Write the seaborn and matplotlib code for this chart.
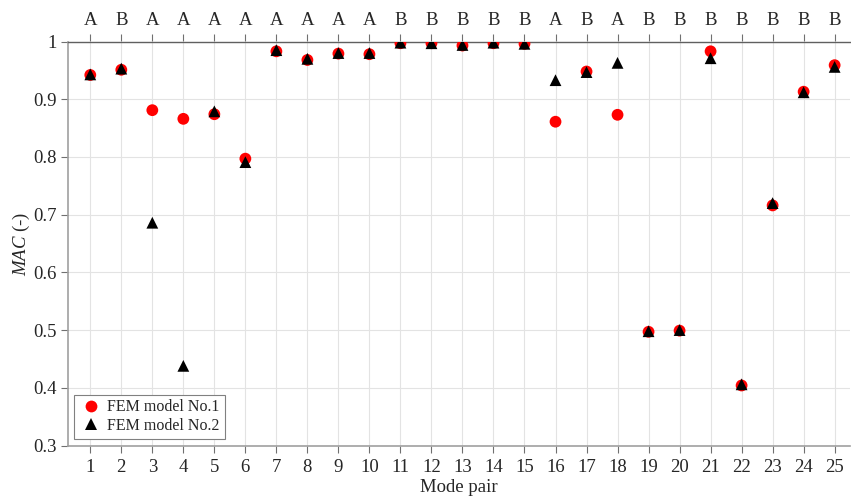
import numpy as np
import pandas as pd
import matplotlib
matplotlib.use("Agg")
import matplotlib.pyplot as plt
import seaborn as sns

modes = list(range(1, 26))
mac_model1 = [0.942, 0.951, 0.881, 0.866, 0.874, 0.797, 0.983, 0.968, 0.979, 0.978,
              0.997, 0.997, 0.993, 0.997, 0.996, 0.861, 0.948, 0.873, 0.497, 0.499,
              0.983, 0.404, 0.716, 0.913, 0.959]
mac_model2 = [0.943, 0.953, 0.686, 0.438, 0.879, 0.791, 0.985, 0.970, 0.980, 0.980,
              0.998, 0.997, 0.994, 0.998, 0.996, 0.933, 0.947, 0.963, 0.498, 0.500,
              0.971, 0.406, 0.720, 0.912, 0.956]
top_labels = ["A", "B", "A", "A", "A", "A", "A", "A", "A", "A", "B", "B", "B", "B", "B",
              "A", "B", "A", "B", "B", "B", "B", "B", "B", "B"]
series_names = ["FEM model No.1", "FEM model No.2"]

sns.set_style("white")
plt.rcParams['font.family'] = ['Liberation Serif', 'DejaVu Serif']
plt.rcParams['mathtext.fontset'] = 'custom'
plt.rcParams['mathtext.it'] = 'Liberation Serif:italic'
plt.rcParams['mathtext.rm'] = 'Liberation Serif'

df = pd.DataFrame({
    "mode": modes + modes,
    "mac": mac_model1 + mac_model2,
    "model": [series_names[0]] * len(modes) + [series_names[1]] * len(modes),
})

fig = plt.figure(figsize=(8.51, 5.0), dpi=100)
ax = fig.add_axes([0.0795, 0.109, 0.9195, 0.808])

sns.scatterplot(data=df, x="mode", y="mac", hue="model", style="model",
                palette={series_names[0]: "#ff0000", series_names[1]: "#000000"},
                markers={series_names[0]: "o", series_names[1]: "^"},
                s=72, linewidth=0, ax=ax, zorder=3)

ax.set_xlim(0.27, 25.5)
ax.set_ylim(0.3, 1.0)
ax.set_xticks(modes)
ax.set_xticklabels([str(m) for m in modes])
ax.set_yticks(np.round(np.arange(0.3, 1.01, 0.1), 1))
ax.set_yticklabels(["0.3", "0.4", "0.5", "0.6", "0.7", "0.8", "0.9", "1"])
ax.grid(True, color="#e3e3e3", linewidth=0.8)
ax.set_axisbelow(True)
ax.tick_params(axis="both", direction="out", length=5, width=0.8, color="#707070",
               labelsize=13.5, labelcolor="#262626", pad=5)
ax.tick_params(axis="y", left=True, pad=3)
ax.tick_params(axis="x", bottom=True)
for side in ["left", "bottom"]:
    ax.spines[side].set_color("#a0a0a0")
    ax.spines[side].set_linewidth(1.2)
ax.spines["top"].set_color("#606060")
ax.spines["top"].set_linewidth(1.0)
ax.spines["right"].set_visible(False)

ax.set_xlabel("Mode pair", fontsize=13.5, color="#262626", labelpad=2)
ax.set_ylabel(r"$\mathit{MAC}$ (-)", fontsize=13.5, color="#262626", labelpad=1)

sec = ax.secondary_xaxis("top")
sec.set_xticks(modes)
sec.set_xticklabels(top_labels)
sec.tick_params(direction="out", length=5, width=0.8, color="#707070",
                labelsize=13.5, labelcolor="#262626", pad=4)
sec.spines["top"].set_visible(False)

leg = ax.legend(loc="lower left", bbox_to_anchor=(0.008, 0.017), borderaxespad=0,
                fontsize=11.5, frameon=True, fancybox=False, edgecolor="#808080",
                framealpha=1, handletextpad=0.3, borderpad=0.3, labelspacing=0.15,
                handlelength=1.5, title=None)
leg.get_frame().set_linewidth(0.8)

fig.savefig("out.png", dpi=100)
